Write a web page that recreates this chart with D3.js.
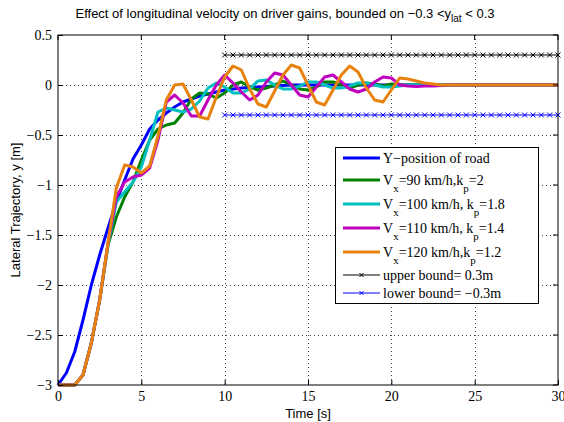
<!DOCTYPE html>
<html>
<head>
<meta charset="utf-8">
<script src="https://cdn.jsdelivr.net/npm/d3@7"></script>
<style>
  body { margin: 0; background: #fff; }
  text { font-family: "Liberation Serif", "Times New Roman", serif; }
  text.sans { font-family: "Liberation Sans", Arial, sans-serif; }
</style>
</head>
<body>
<div id="chart-area"></div>
<script>
// time samples every 0.5 s, 0..30
const time = d3.range(0, 30.001, 0.5);

const road = [-3, -2.88, -2.67, -2.35, -2.0, -1.7, -1.43, -1.17, -0.95, -0.74,
  -0.6, -0.44, -0.35, -0.28, -0.22, -0.17, -0.14, -0.11, -0.09, -0.07,
  -0.05, -0.04, -0.03, -0.025, -0.02, -0.015, -0.01, -0.005, 0, 0,
  0, 0, 0, 0, 0, 0, 0, 0, 0, 0,
  0, 0, 0, 0, 0, 0, 0, 0, 0, 0,
  0, 0, 0, 0, 0, 0, 0, 0, 0, 0, 0];

const v90 = [-3, -3, -3, -2.9, -2.58, -2.15, -1.6, -1.32, -1.12, -0.97,
  -0.75, -0.55, -0.44, -0.4, -0.38, -0.28, -0.14, -0.08, -0.09, -0.13,
  -0.08, 0.0, 0.03, -0.02, -0.05, -0.03, 0.0, 0.04, 0.0, -0.04,
  -0.05, -0.02, 0.03, 0.03, 0.0, -0.03, 0.0, 0.02, 0.01, -0.01,
  0.01, 0.0, 0.0, 0, 0, 0, 0, 0, 0, 0,
  0, 0, 0, 0, 0, 0, 0, 0, 0, 0, 0];

const v100 = [-3, -3, -3, -2.9, -2.58, -2.15, -1.6, -1.17, -1.07, -0.97,
  -0.82, -0.55, -0.27, -0.23, -0.25, -0.27, -0.24, -0.16, -0.03, 0.02,
  -0.02, -0.08, -0.08, -0.04, 0.04, 0.05, 0.0, -0.04, -0.04, -0.01,
  0.03, 0.03, 0.0, -0.03, -0.03, -0.01, 0.02, 0.02, 0.0, -0.02,
  -0.02, -0.01, 0.0, 0, 0, 0, 0, 0, 0, 0,
  0, 0, 0, 0, 0, 0, 0, 0, 0, 0, 0];

const v110 = [-3, -3, -3, -2.9, -2.58, -2.15, -1.58, -1.12, -0.97, -0.92,
  -0.9, -0.83, -0.55, -0.17, -0.1, -0.18, -0.31, -0.31, -0.15, 0.0,
  0.1, 0.02, -0.07, -0.15, -0.1, 0.03, 0.12, 0.1, 0.0, -0.1,
  -0.12, -0.02, 0.08, 0.1, 0.03, -0.04, -0.07, -0.04, 0.03, 0.08,
  0.07, 0.0, -0.01, -0.015, -0.01, -0.01, -0.005, 0, 0, 0,
  0, 0, 0, 0, 0, 0, 0, 0, 0, 0, 0];

const v120 = [-3, -3, -3, -2.9, -2.58, -2.15, -1.58, -1.03, -0.8, -0.82,
  -0.88, -0.81, -0.51, -0.15, 0.0, 0.01, -0.15, -0.32, -0.34, -0.12,
  0.08, 0.19, 0.15, -0.04, -0.19, -0.22, -0.06, 0.1, 0.2, 0.17,
  0.0, -0.17, -0.2, -0.05, 0.1, 0.19, 0.13, -0.03, -0.15, -0.17,
  -0.05, 0.07, 0.06, 0.04, 0.02, 0.01, 0.0, 0, 0, 0,
  0, 0, 0, 0, 0, 0, 0, 0, 0, 0, 0];

const boundTime = d3.range(10, 30.001, 0.5);
const upperBound = 0.3;
const lowerBound = -0.3;

const xTicks = [0, 5, 10, 15, 20, 25, 30];
const yTicks = [0.5, 0, -0.5, -1, -1.5, -2, -2.5, -3];

const series = [
  { name: "road", values: road, color: "#0000ff" },
  { name: "v90", values: v90, color: "#008000" },
  { name: "v100", values: v100, color: "#00bfbf" },
  { name: "v110", values: v110, color: "#bf00bf" },
  { name: "v120", values: v120, color: "#e8820e" },
];

const width = 564;
const height = 422;
const margin = { left: 58, right: 6, top: 35, bottom: 37 };

const svg = d3
  .select("#chart-area")
  .append("svg")
  .attr("width", width)
  .attr("height", height);

const x = d3.scaleLinear().domain([0, 30]).range([margin.left, width - margin.right]);
const y = d3.scaleLinear().domain([-3, 0.5]).range([height - margin.bottom, margin.top]);

// grid
const grid = svg.append("g").attr("stroke", "#444").attr("stroke-width", 1)
  .attr("stroke-dasharray", "1,3");
grid.selectAll("line.gx")
  .data(xTicks.slice(1, -1))
  .join("line")
  .attr("x1", (d) => Math.round(x(d)) + 0.5)
  .attr("x2", (d) => Math.round(x(d)) + 0.5)
  .attr("y1", y(0.5))
  .attr("y2", y(-3));
grid.selectAll("line.gy")
  .data(yTicks.slice(1, -1))
  .join("line")
  .attr("y1", (d) => Math.round(y(d)) + 0.5)
  .attr("y2", (d) => Math.round(y(d)) + 0.5)
  .attr("x1", x(0))
  .attr("x2", x(30));

// curves
const line = d3.line()
  .x((d, i) => x(time[i]))
  .y((d) => y(d));

const plot = svg.append("g");
plot.selectAll("path")
  .data(series)
  .join("path")
  .attr("d", (d) => line(d.values))
  .attr("fill", "none")
  .attr("stroke", (d) => d.color)
  .attr("stroke-width", 3)
  .attr("stroke-linejoin", "round");

// bounds with x markers
function drawBound(value, color) {
  const g = svg.append("g");
  g.append("line")
    .attr("x1", x(boundTime[0]))
    .attr("x2", x(boundTime[boundTime.length - 1]))
    .attr("y1", y(value))
    .attr("y2", y(value))
    .attr("stroke", color)
    .attr("stroke-width", 1);
  g.selectAll("path")
    .data(boundTime)
    .join("path")
    .attr("d", (d) => {
      const cx = x(d), cy = y(value), s = 2.5;
      return `M${cx - s},${cy - s}L${cx + s},${cy + s}M${cx - s},${cy + s}L${cx + s},${cy - s}`;
    })
    .attr("stroke", color)
    .attr("stroke-width", 1);
}
drawBound(upperBound, "#000");
drawBound(lowerBound, "#0000ff");

// axes box
svg.append("rect")
  .attr("x", x(0))
  .attr("y", y(0.5))
  .attr("width", x(30) - x(0))
  .attr("height", y(-3) - y(0.5))
  .attr("fill", "none")
  .attr("stroke", "#000")
  .attr("stroke-width", 1);

const xAxis = svg.append("g")
  .attr("transform", `translate(0,${y(-3)})`)
  .call(d3.axisBottom(x).tickValues(xTicks).tickSizeInner(-5).tickSizeOuter(0).tickPadding(6));
const yAxis = svg.append("g")
  .attr("transform", `translate(${x(0)},0)`)
  .call(d3.axisLeft(y).tickValues(yTicks).tickFormat((d) => String(d).replace("-", "\u2212"))
    .tickSizeInner(-5).tickSizeOuter(0).tickPadding(6));
[xAxis, yAxis].forEach((a) => {
  a.select(".domain").remove();
  a.selectAll("text")
    .style("font-family", "'Liberation Serif', serif")
    .style("font-size", "14px")
    .attr("fill", "#000");
});
// ticks on top and right
svg.append("g").selectAll("line")
  .data(xTicks)
  .join("line")
  .attr("x1", (d) => x(d)).attr("x2", (d) => x(d))
  .attr("y1", y(0.5)).attr("y2", y(0.5) + 5)
  .attr("stroke", "#000");
svg.append("g").selectAll("line")
  .data(yTicks)
  .join("line")
  .attr("y1", (d) => y(d)).attr("y2", (d) => y(d))
  .attr("x1", x(30)).attr("x2", x(30) - 5)
  .attr("stroke", "#000");

// labels
svg.append("text")
  .attr("class", "sans")
  .attr("x", (x(0) + x(30)) / 2)
  .attr("y", 418)
  .attr("text-anchor", "middle")
  .attr("font-size", 13)
  .text("Time [s]");

svg.append("text")
  .attr("class", "sans")
  .attr("transform", `translate(20,${(y(0.5) + y(-3)) / 2}) rotate(-90)`)
  .attr("text-anchor", "middle")
  .attr("font-size", 13)
  .text("Lateral Trajectory, y [m]");

const title = svg.append("text")
  .attr("class", "sans")
  .attr("x", 285)
  .attr("y", 18)
  .attr("text-anchor", "middle")
  .attr("font-size", 13);
title.append("tspan").text("Effect of longitudinal velocity on driver gains, bounded on \u22120.3 <y");
title.append("tspan").attr("dy", 4).attr("font-size", 10).text("lat");
title.append("tspan").attr("dy", -4).text(" < 0.3");

// legend
const legendItems = [
  { color: "#0000ff", parts: [["Y\u2212position of road"]] },
  { color: "#008000", parts: [["V"], ["x", 1], ["=90 km/h,k"], ["p", 1], ["=2"]] },
  { color: "#00bfbf", parts: [["V"], ["x", 1], ["=100 km/h, k"], ["p", 1], ["=1.8"]] },
  { color: "#bf00bf", parts: [["V"], ["x", 1], ["=110 km/h, k"], ["p", 1], ["=1.4"]] },
  { color: "#e8820e", parts: [["V"], ["x", 1], ["=120 km/h,k"], ["p", 1], ["=1.2"]] },
  { color: "#000", parts: [["upper bound= 0.3m"]], marker: true },
  { color: "#0000ff", parts: [["lower bound= \u22120.3m"]], marker: true },
];
const legendY = [158, 180, 204, 228, 252, 275, 293];

const legend = svg.append("g");
legend.append("rect")
  .attr("x", 335.5).attr("y", 147.5)
  .attr("width", 203).attr("height", 156)
  .attr("fill", "#fff").attr("stroke", "#000").attr("stroke-width", 1);

legendItems.forEach((item, i) => {
  const ly = legendY[i];
  legend.append("line")
    .attr("x1", 343).attr("x2", 380)
    .attr("y1", ly).attr("y2", ly)
    .attr("stroke", item.color)
    .attr("stroke-width", item.marker ? 1 : 3);
  if (item.marker) {
    const s = 2;
    legend.append("path")
      .attr("d", `M${361.5 - s},${ly - s}L${361.5 + s},${ly + s}M${361.5 - s},${ly + s}L${361.5 + s},${ly - s}`)
      .attr("stroke", item.color);
  }
  const t = legend.append("text")
    .attr("x", 383)
    .attr("y", ly + 4.5)
    .attr("font-size", 14);
  let sub = false;
  item.parts.forEach((p) => {
    const ts = t.append("tspan").text(p[0]);
    if (p[1] && !sub) { ts.attr("dy", 7).attr("font-size", 11); sub = true; }
    else if (!p[1] && sub) { ts.attr("dy", -7); sub = false; }
  });
});
</script>
</body>
</html>
